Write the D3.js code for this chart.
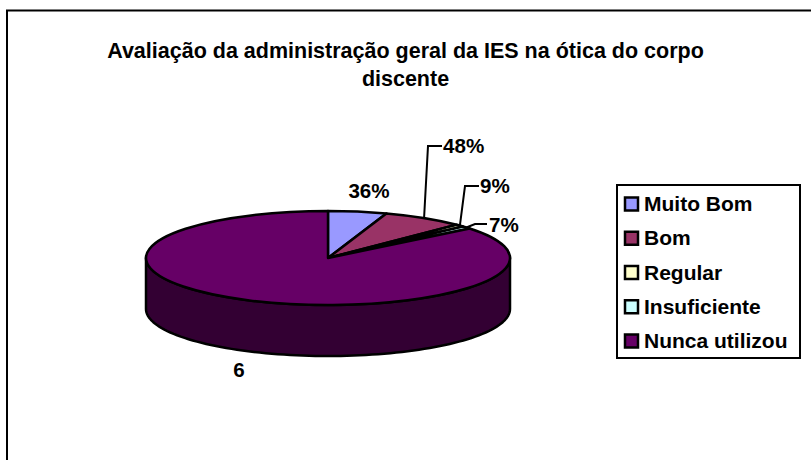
<!DOCTYPE html>
<html><head><meta charset="utf-8">
<script src="https://cdn.jsdelivr.net/npm/d3@7"></script>
<style>html,body{margin:0;padding:0;background:#fff;overflow:hidden}svg{display:block}text{font-family:"Liberation Sans",Arial,sans-serif;font-weight:bold;fill:#000}</style>
</head><body><div id="c"></div>
<script>
const categories=["Muito Bom","Bom","Regular","Insuficiente","Nunca utilizou"];
const values=[5.2,7.3,0.8,0.9,85.8];
const colors=["#9999ff","#993366","#ffffcc","#ccffff","#660066"];
const dataLabels=["36%","48%","9%","7%","6"];
const titleLines=["Avaliação da administração geral da IES na ótica do corpo","discente"];
const W=811,H=460,cx=328,cy=258,rx=182,ry=47,depth=51,fs=20.6,sw=2.5;
const svg=d3.select("#c").append("svg").attr("width",W).attr("height",H);
svg.append("rect").attr("x",7).attr("y",10.5).attr("width",900).attr("height",600).attr("fill","#fff").attr("stroke","#000").attr("stroke-width",2);
svg.selectAll(".t").data(titleLines).join("text").attr("class","t").attr("x",405.5).attr("y",(d,i)=>58+i*28).attr("text-anchor","middle").attr("font-size",21.5).text(d=>d);
const pie=d3.pie().sort(null).value(d=>d)(values);
const px=a=>cx+rx*Math.sin(a),py=a=>cy-ry*Math.cos(a);
const front=d3.range(Math.PI/2,Math.PI*1.5+.001,Math.PI/90);
const topEdge=front.map(a=>[px(a),py(a)]);
const botEdge=front.slice().reverse().map(a=>[px(a),py(a)+depth]);
svg.append("path").attr("d",d3.line()(topEdge.concat(botEdge))+"Z").attr("fill","#330033").attr("stroke","#000").attr("stroke-width",sw).attr("stroke-linejoin","round");
const arc=d3.arc().innerRadius(0).outerRadius(rx);
svg.append("g").attr("transform",`translate(${cx},${cy}) scale(1,${ry/rx})`).selectAll("path").data(pie).join("path")
 .attr("d",arc).attr("fill",(d,i)=>colors[i]).attr("stroke","#000").attr("stroke-width",sw).attr("vector-effect","non-scaling-stroke").attr("stroke-linejoin","round");
const lab=[[369,198,"middle"],[443,153,"start"],[480,193,"start"],[489,232,"start"],[239,377,"middle"]];
svg.selectAll(".d").data(dataLabels).join("text").attr("class","d").attr("x",(d,i)=>lab[i][0]).attr("y",(d,i)=>lab[i][1]).attr("text-anchor",(d,i)=>lab[i][2]).attr("font-size",fs).text(d=>d);
const mid=i=>(pie[i].startAngle+pie[i].endAngle)/2;
const leaders=[[1,[428,146],[442,146]],[2,[465,186],[479,186]],[3,[475,224],[487,224]]];
svg.selectAll(".l").data(leaders).join("path").attr("class","l").attr("fill","none").attr("stroke","#000").attr("stroke-width",2)
 .attr("d",d=>d3.line()([[px(mid(d[0])),py(mid(d[0]))],d[1],d[2]]));
svg.append("rect").attr("x",617).attr("y",185).attr("width",183).attr("height",173).attr("fill","#fff").attr("stroke","#000").attr("stroke-width",2);
const ly=d3.scalePoint().domain(categories).range([204,341]);
const g=svg.selectAll(".k").data(categories).join("g").attr("class","k").attr("transform",d=>`translate(0,${ly(d)})`);
g.append("rect").attr("x",625).attr("y",-6.5).attr("width",13).attr("height",13).attr("fill",(d,i)=>colors[i]).attr("stroke","#000").attr("stroke-width",2.5);
g.append("text").attr("x",644).attr("y",7).attr("font-size",21).text(d=>d);
</script></body></html>
